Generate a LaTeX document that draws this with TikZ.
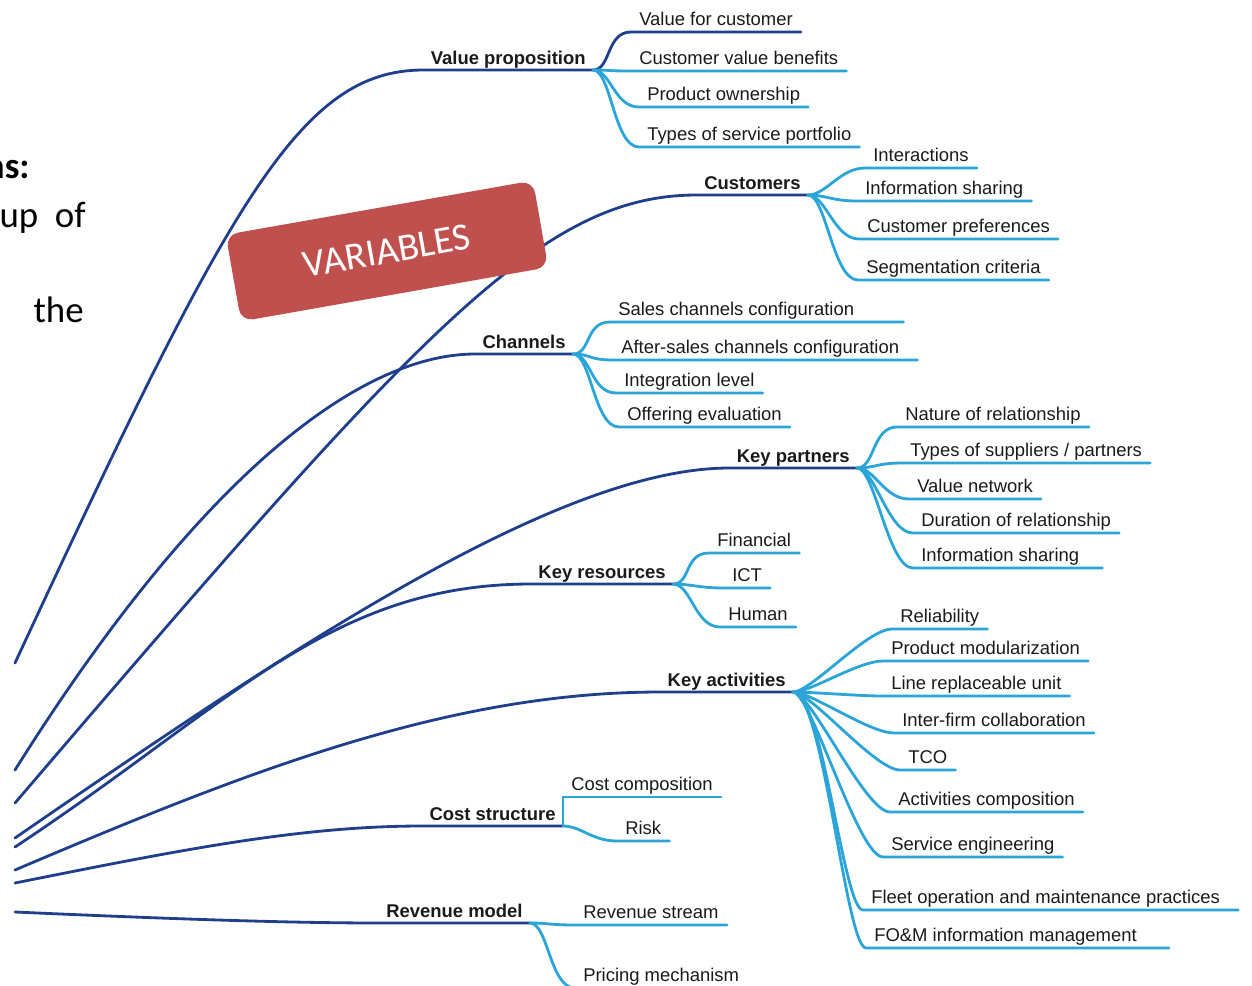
\documentclass[tikz,border=0pt]{standalone}
\usepackage{fontspec}
\setmainfont{Liberation Sans}
\newfontfamily\calibri{Carlito}
\usepackage{tikz}
\definecolor{navy}{HTML}{1F3F8C}
\definecolor{sky}{HTML}{2BA5D8}
\definecolor{brick}{HTML}{C0504D}
\definecolor{ink}{HTML}{1A1A1A}
\tikzset{
  trunk/.style={draw=navy, line width=1.6pt, line cap=round},
  twig/.style={draw=sky, line width=1.6pt, line cap=round},
  hub/.style={anchor=south east, inner xsep=4pt, inner ysep=3.1pt, text depth=0pt,
    text=ink, font=\fontsize{10.5}{12}\selectfont\bfseries},
  leaf/.style={anchor=south west, inner xsep=4.5pt, inner ysep=3.7pt, text depth=0pt,
    text=ink, font=\fontsize{10.5}{12}\selectfont},
  tag/.style={fill=brick, rounded corners=7pt, minimum width=6.24cm, minimum height=1.76cm,
    text=white, font=\calibri\fontsize{22}{26}\selectfont},
  side/.style={anchor=base east, inner sep=0pt, text=black, font=\calibri\fontsize{21}{25}\selectfont}
}
\begin{document}
\begin{tikzpicture}[x=0.02cm, y=-0.02cm]
  \useasboundingbox (0,0) rectangle (1252,985);
  \clip (0,0) rectangle (1252,985);

  % text of the slide, cut at the left edge
  \node[side, font=\calibri\fontsize{21}{25}\selectfont\bfseries] (t1) at (30,178) {ns:};
  \node[side] (t2) at (86,227) {up\hspace{0.45em}of};
  \node[side] (t3) at (84,322) {the};

  % roots of the trunks
  \coordinate (r-vp) at (15,663);
  \coordinate (r-ch) at (15,770);
  \coordinate (r-cu) at (15,803);
  \coordinate (r-kp) at (15,838);
  \coordinate (r-kr) at (15,847);
  \coordinate (r-ka) at (15,870);
  \coordinate (r-cs) at (15,883);
  \coordinate (r-rm) at (15,912);

  % main branches
  \node[hub] (vp) at (593,70) {Value proposition};
  \node[hub] (cu) at (808,195) {Customers};
  \node[hub] (ch) at (573,354) {Channels};
  \node[hub] (kp) at (857,468) {Key partners};
  \node[hub] (kr) at (673,584) {Key resources};
  \node[hub] (ka) at (793,692) {Key activities};
  \node[hub] (cs) at (563,826) {Cost structure};
  \node[hub] (rm) at (530,923) {Revenue model};

  \draw[trunk] (r-vp) .. controls (230,200) and (300,70) .. (vp.south west) -- (vp.south east);
  \draw[trunk] (r-ch) .. controls (200,475) and (360,354) .. (ch.south west) -- (ch.south east);
  \draw[trunk] (r-cu) .. controls (420,330) and (540,195) .. (cu.south west) -- (cu.south east);
  \draw[trunk] (r-kp) .. controls (295,645) and (560,468) .. (kp.south west) -- (kp.south east);
  \draw[trunk] (r-kr) .. controls (230,705) and (330,584) .. (kr.south west) -- (kr.south east);
  \draw[trunk] (r-ka) .. controls (250,770) and (450,692) .. (ka.south west) -- (ka.south east);
  \draw[trunk] (r-cs) .. controls (180,850) and (300,826) .. (cs.south west) -- (cs.south east);
  \draw[trunk] (r-rm) .. controls (150,918) and (280,923) .. (rm.south west) -- (rm.south east);

  \node[tag, rotate=10] (var) at (387,251) {VARIABLES};

  % Value proposition
  \node[leaf] (vfc) at (631,32) {Value for customer};
  \node[leaf] (cvb) at (631,71) {Customer value benefits};
  \node[leaf] (po) at (639,107) {Product ownership};
  \node[leaf] (tsp) at (639,147) {Types of service portfolio};
  \draw[trunk] (vp.south east) .. controls +(18,0) and +(-25,0) .. (vfc.south west) -- (vfc.south east);
  \draw[twig] (vp.south east) .. controls +(18,0) and +(-25,0) .. (cvb.south west) -- (cvb.south east);
  \draw[twig] (vp.south east) .. controls +(18,0) and +(-25,0) .. (po.south west) -- (po.south east);
  \draw[twig] (vp.south east) .. controls +(18,0) and +(-25,0) .. (tsp.south west) -- (tsp.south east);

  % Customers
  \node[leaf] (int) at (865,168) {Interactions};
  \node[leaf] (ish) at (857,201) {Information sharing};
  \node[leaf] (cp) at (859,239) {Customer preferences};
  \node[leaf] (sgc) at (858,280) {Segmentation criteria};
  \draw[twig] (cu.south east) .. controls +(18,0) and +(-25,0) .. (int.south west) -- (int.south east);
  \draw[twig] (cu.south east) .. controls +(18,0) and +(-25,0) .. (ish.south west) -- (ish.south east);
  \draw[twig] (cu.south east) .. controls +(18,0) and +(-25,0) .. (cp.south west) -- (cp.south east);
  \draw[twig] (cu.south east) .. controls +(18,0) and +(-25,0) .. (sgc.south west) -- (sgc.south east);

  % Channels
  \node[leaf] (scc) at (610,322) {Sales channels configuration};
  \node[leaf] (acc) at (613,360) {After-sales channels configuration};
  \node[leaf] (il) at (616,393) {Integration level};
  \node[leaf] (oe) at (619,427) {Offering evaluation};
  \draw[twig] (ch.south east) .. controls +(18,0) and +(-25,0) .. (scc.south west) -- (scc.south east) -- ++(41,0);
  \draw[twig] (ch.south east) .. controls +(18,0) and +(-25,0) .. (acc.south west) -- (acc.south east) -- ++(10,0);
  \draw[twig] (ch.south east) .. controls +(18,0) and +(-25,0) .. (il.south west) -- (il.south east);
  \draw[twig] (ch.south east) .. controls +(18,0) and +(-25,0) .. (oe.south west) -- (oe.south east);

  % Key partners
  \node[leaf] (nor) at (897,427) {Nature of relationship};
  \node[leaf] (tsup) at (902,463) {Types of suppliers / partners};
  \node[leaf] (vn) at (909,499) {Value network};
  \node[leaf] (dor) at (913,533) {Duration of relationship};
  \node[leaf] (ish2) at (913,568) {Information sharing};
  \draw[twig] (kp.south east) .. controls +(18,0) and +(-25,0) .. (nor.south west) -- (nor.south east);
  \draw[twig] (kp.south east) .. controls +(18,0) and +(-25,0) .. (tsup.south west) -- (tsup.south east);
  \draw[twig] (kp.south east) .. controls +(18,0) and +(-25,0) .. (vn.south west) -- (vn.south east);
  \draw[twig] (kp.south east) .. controls +(18,0) and +(-25,0) .. (dor.south west) -- (dor.south east);
  \draw[twig] (kp.south east) .. controls +(18,0) and +(-25,0) .. (ish2.south west) -- (ish2.south east) -- ++(15,0);

  % Key resources
  \node[leaf] (fin) at (709,553) {Financial};
  \node[leaf] (ict) at (724,588) {ICT};
  \node[leaf] (hum) at (720,627) {Human};
  \draw[twig] (kr.south east) .. controls +(18,0) and +(-25,0) .. (fin.south west) -- (fin.south east);
  \draw[twig] (kr.south east) .. controls +(18,0) and +(-25,0) .. (ict.south west) -- (ict.south east);
  \draw[twig] (kr.south east) .. controls +(18,0) and +(-25,0) .. (hum.south west) -- (hum.south east);

  % Key activities
  \node[leaf] (rel) at (892,629) {Reliability};
  \node[leaf] (pmod) at (883,661) {Product modularization};
  \node[leaf] (lru) at (883,696) {Line replaceable unit};
  \node[leaf] (ifc) at (894,733) {Inter-firm collaboration};
  \node[leaf] (tco) at (900,770) {TCO};
  \node[leaf] (acp) at (890,812) {Activities composition};
  \node[leaf] (seng) at (883,857) {Service engineering};
  \node[leaf] (fomp) at (863,910) {Fleet operation and maintenance practices};
  \node[leaf] (fomi) at (866,948) {FO\&M information management};
  \draw[twig] (ka.south east) .. controls +(18,0) and +(-25,0) .. (rel.south west) -- (rel.south east);
  \draw[twig] (ka.south east) .. controls +(18,0) and +(-25,0) .. (pmod.south west) -- (pmod.south east);
  \draw[twig] (ka.south east) .. controls +(18,0) and +(-25,0) .. (lru.south west) -- (lru.south east);
  \draw[twig] (ka.south east) .. controls +(18,0) and +(-25,0) .. (ifc.south west) -- (ifc.south east);
  \draw[twig] (ka.south east) .. controls +(18,0) and +(-25,0) .. (tco.south west) -- (tco.south east);
  \draw[twig] (ka.south east) .. controls +(18,0) and +(-25,0) .. (acp.south west) -- (acp.south east);
  \draw[twig] (ka.south east) .. controls +(18,0) and +(-25,0) .. (seng.south west) -- (seng.south east);
  \draw[twig] (ka.south east) .. controls +(30,0) and +(-20,0) .. (fomp.south west) -- (fomp.south east) -- ++(10,0);
  \draw[twig] (ka.south east) .. controls +(30,0) and +(-20,0) .. (fomi.south west) -- (fomi.south east) -- ++(24,0);

  % Cost structure
  \node[leaf] (cc) at (563,797) {Cost composition};
  \node[leaf] (risk) at (617,841) {Risk};
  \draw[twig] (cs.south east) |- (cc.south west) -- (cc.south east);
  \draw[twig] (cs.south east) .. controls +(18,0) and +(-25,0) .. (risk.south west) -- (risk.south east);

  % Revenue model
  \node[leaf] (rs) at (575,925) {Revenue stream};
  \node[leaf] (pmech) at (575,988) {Pricing mechanism};
  \draw[twig] (rm.south east) .. controls +(18,0) and +(-25,0) .. (rs.south west) -- (rs.south east);
  \draw[twig] (rm.south east) .. controls +(18,0) and +(-25,0) .. (pmech.south west) -- (pmech.south east);
\end{tikzpicture}
\end{document}
